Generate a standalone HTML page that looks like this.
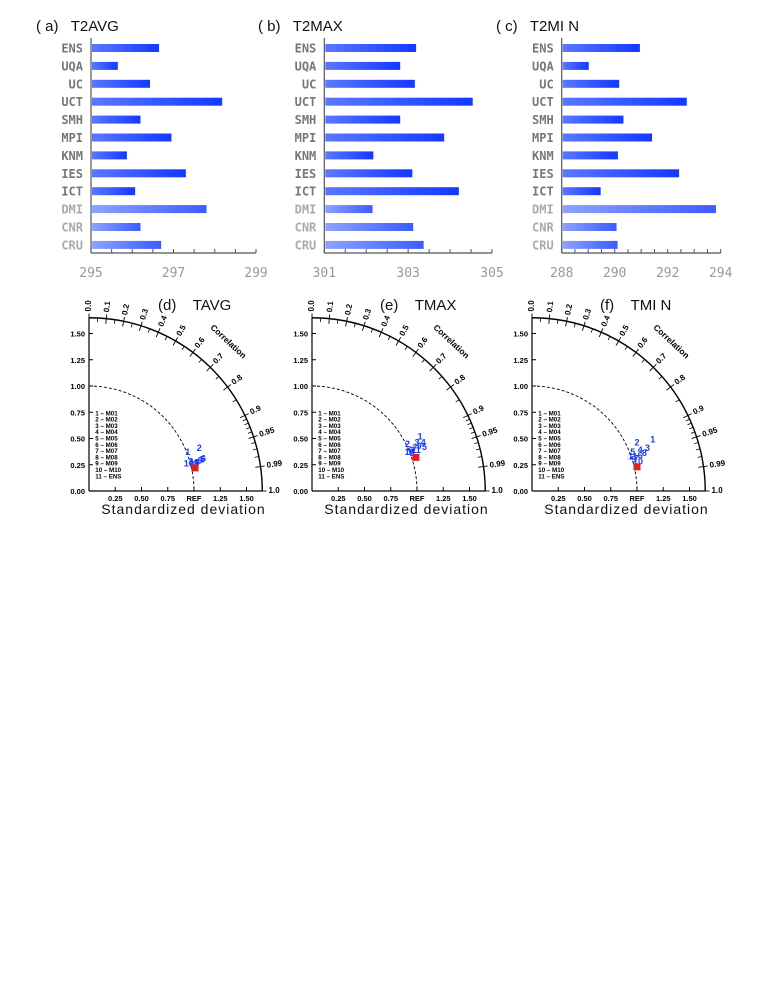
<!DOCTYPE html>
<html><head><meta charset="utf-8"><style>
body{margin:0;background:#fff;}
svg{display:block;font-family:"Liberation Sans","DejaVu Sans",sans-serif;}
text{white-space:pre;}
</style></head><body>
<svg id="fig" width="765" height="990" viewBox="0 0 765 990" xmlns="http://www.w3.org/2000/svg">
<defs>
<linearGradient id="barg" x1="0" x2="1" y1="0" y2="0"><stop offset="0" stop-color="#5a78ff"/><stop offset="1" stop-color="#1438ff"/></linearGradient>
<linearGradient id="barl" x1="0" x2="1" y1="0" y2="0"><stop offset="0" stop-color="#8ea2ff"/><stop offset="1" stop-color="#3a5cff"/></linearGradient>
</defs>
<g id="bars"></g>
<g id="taylors"></g>
</svg>
<script>
const categories = ["ENS","UQA","UC","UCT","SMH","MPI","KNM","IES","ICT","DMI","CNR","CRU"];
const valuesA = [296.65,295.65,296.43,298.18,296.2,296.95,295.87,297.3,296.07,297.8,296.2,296.7];
const valuesB = [303.19,302.81,303.16,304.54,302.81,303.86,302.17,303.1,304.21,302.15,303.12,303.37];
const valuesC = [290.95,289.02,290.17,292.72,290.33,291.41,290.12,292.43,289.47,293.82,290.07,290.11];
const ticksA = [295,297,299];
const ticksB = [301,303,305];
const ticksC = [288,290,292,294];
const titlesBar = ["( a)   T2AVG","( b)   T2MAX","( c)   T2MI N"];

const taylorX_D = [0.94,1.05,0.97,1.03,1.08,1.09,0.98,1.02,1.06,0.95,1.00];
const taylorY_D = [0.37,0.41,0.28,0.27,0.30,0.31,0.25,0.26,0.29,0.26,0.27];
const taylorX_E = [1.03,0.91,1.00,1.06,1.07,0.94,0.98,0.95,1.02,0.93,0.99];
const taylorY_E = [0.52,0.45,0.46,0.46,0.42,0.39,0.41,0.36,0.43,0.37,0.39];
const taylorX_F = [1.15,1.00,1.10,1.03,0.96,1.03,0.99,1.07,0.97,1.01,0.96];
const taylorY_F = [0.49,0.46,0.41,0.39,0.37,0.34,0.31,0.36,0.30,0.28,0.33];
const refX = [1.01,0.99,1.00];
const refY = [0.22,0.32,0.23];
const corrLabels = ["0.0","0.1","0.2","0.3","0.4","0.5","0.6","0.7","0.8","0.9","0.95","0.99","1.0"];
const sdTicks = [0.25,0.5,0.75,1.0,1.25,1.5];
const legendItems = ["1 \u2013 M01","2 \u2013 M02","3 \u2013 M03","4 \u2013 M04","5 \u2013 M05","6 \u2013 M06","7 \u2013 M07","8 \u2013 M08","9 \u2013 M09","10 \u2013 M10","11 \u2013 ENS"];
const titlesTaylor = ["(d)    TAVG","(e)    TMAX","(f)    TMI N"];

const NS="http://www.w3.org/2000/svg";
function mk(tag,attrs,parent){const e=document.createElementNS(NS,tag);for(const k in attrs)e.setAttribute(k,attrs[k]);parent.appendChild(e);return e;}

const barsRoot=document.getElementById('bars');
const barPanels=[
 {x0:91,x1:256,vals:valuesA,ticks:ticksA,title:titlesBar[0],tx:36},
 {x0:324.3,x1:492,vals:valuesB,ticks:ticksB,title:titlesBar[1],tx:258},
 {x0:561.7,x1:720.7,vals:valuesC,ticks:ticksC,title:titlesBar[2],tx:496}
];
barPanels.forEach((p,pi)=>{
 const g=mk('g',{},barsRoot);
 
 
 const tmin=p.ticks[0],tmax=p.ticks[p.ticks.length-1];
 const sx=v=>p.x0+(v-tmin)/(tmax-tmin)*(p.x1-p.x0);
 const t=mk('text',{x:p.tx,y:31,'font-size':15,fill:'#111'},g);t.textContent=p.title;
 
 
 const base=253;
 mk('line',{x1:p.x0,x2:p.x0,y1:38,y2:base,stroke:'#555','stroke-width':1.2},g);
 mk('line',{x1:p.x0,x2:p.x1,y1:base,y2:base,stroke:'#555','stroke-width':1.2},g);
 for(let v=tmin;v<=tmax+1e-9;v+=0.5){const x=sx(v);mk('line',{x1:x,x2:x,y1:base-4,y2:base,stroke:'#555','stroke-width':1},g);}
 p.ticks.forEach(v=>{const tl=mk('text',{x:sx(v),y:277,'font-size':13,'text-anchor':'middle',fill:'#999','font-family':'DejaVu Sans Mono, monospace'},g);tl.textContent=v;
  
  });
 categories.forEach((c,i)=>{
  const yc=48+i*17.9;
  const lbl=mk('text',{x:p.x0-8,y:yc+4.5,'font-size':12,'text-anchor':'end',fill:i>=9?'#aaa':'#777','font-family':'DejaVu Sans Mono, monospace','font-weight':'bold'},g);
  lbl.textContent=c;
  
  
  const r=mk('rect',{x:p.x0+1,y:yc-4,width:Math.max(0,sx(p.vals[i])-p.x0-1),height:8,fill:i>=9?'url(#barl)':'url(#barg)'},g);
  
  
 });
});

const tayRoot=document.getElementById('taylors');
const S=105;
const tPanels=[
 {ox:89,oy:491,xs:taylorX_D,ys:taylorY_D,title:titlesTaylor[0],tx:158},
 {ox:312,oy:491,xs:taylorX_E,ys:taylorY_E,title:titlesTaylor[1],tx:380},
 {ox:532,oy:491,xs:taylorX_F,ys:taylorY_F,title:titlesTaylor[2],tx:600}
];
tPanels.forEach((p,pi)=>{
 const g=mk('g',{},tayRoot);
 
 
 const X=v=>p.ox+v*S, Y=v=>p.oy-v*S;
 const R=1.65;
 const tt=mk('text',{x:p.tx,y:310,'font-size':15,fill:'#111'},g);tt.textContent=p.title;
 
 
 mk('line',{x1:X(0),y1:Y(0),x2:X(0),y2:Y(R),stroke:'#000','stroke-width':1.2},g);
 mk('line',{x1:X(0),y1:Y(0),x2:X(R),y2:Y(0),stroke:'#000','stroke-width':1.2},g);
 mk('path',{d:`M${X(0)},${Y(R)} A${R*S},${R*S} 0 0 1 ${X(R)},${Y(0)}`,fill:'none',stroke:'#000','stroke-width':1.4},g);
 mk('path',{d:`M${X(0)},${Y(1)} A${S},${S} 0 0 1 ${X(1)},${Y(0)}`,fill:'none',stroke:'#000','stroke-width':0.9,'stroke-dasharray':'3,2'},g);
 [0,0.25,0.5,0.75,1.0,1.25,1.5].forEach(v=>{
  mk('line',{x1:X(0),x2:X(0)+4,y1:Y(v),y2:Y(v),stroke:'#000'},g);
  const l=mk('text',{x:X(0)-4,y:Y(v)+3,'font-size':7.5,'font-weight':'bold','text-anchor':'end'},g);l.textContent=v.toFixed(2);
  
  
 });
 sdTicks.forEach(v=>{
  mk('line',{x1:X(v),x2:X(v),y1:Y(0),y2:Y(0)-4,stroke:'#000'},g);
  const l=mk('text',{x:X(v),y:Y(0)+10,'font-size':7.5,'font-weight':'bold','text-anchor':'middle'},g);l.textContent=v===1?'REF':v.toFixed(2);
  
  
 });
 const minor=[0.05,0.15,0.25,0.35,0.45,0.55,0.65,0.75,0.85,0.91,0.92,0.93,0.94,0.96,0.97,0.98];
 minor.forEach(c=>{const a=Math.acos(c);mk('line',{x1:X(R*Math.cos(a)),y1:Y(R*Math.sin(a)),x2:X((R-0.04)*Math.cos(a)),y2:Y((R-0.04)*Math.sin(a)),stroke:'#000','stroke-width':0.8},g);});
 corrLabels.forEach(s=>{
  const c=parseFloat(s),a=Math.acos(c),deg=a*180/Math.PI;
  mk('line',{x1:X((R-0.05)*Math.cos(a)),y1:Y((R-0.05)*Math.sin(a)),x2:X((R+0.04)*Math.cos(a)),y2:Y((R+0.04)*Math.sin(a)),stroke:'#000','stroke-width':0.9},g);
  const lx=X((R+0.06)*Math.cos(a)),ly=Y((R+0.06)*Math.sin(a));
  const l=mk('text',{x:lx,y:ly,'font-size':8,'font-weight':'bold',transform:`rotate(${-deg} ${lx} ${ly})`,'dominant-baseline':'middle'},g);l.textContent=s;
  
  
 });
 const ca=47*Math.PI/180, cx=X(1.92*Math.cos(ca)), cy=Y(1.92*Math.sin(ca));
 const ct=mk('text',{x:cx,y:cy,'font-size':8.5,'font-weight':'bold','text-anchor':'middle',transform:`rotate(${90-47} ${cx} ${cy})`},g);ct.textContent='Correlation';
 
 
 const xt=mk('text',{x:X(0.9),y:514,'font-size':14,'text-anchor':'middle','letter-spacing':'1','fill':'#111'},g);xt.textContent='Standardized deviation';
 
 
 legendItems.forEach((s,i)=>{const l=mk('text',{x:X(0.06),y:Y(0.75)+3+i*6.3,'font-size':6.2,'font-weight':'bold'},g);l.textContent=s;
  
  });
 p.xs.forEach((v,i)=>{
  const pt=mk('text',{x:X(v),y:Y(p.ys[i])+3,'font-size':9,'font-weight':'bold','text-anchor':'middle',fill:'#1a3cff'},g);
  pt.textContent=String(i+1);
  
  
 });
 const rs=mk('rect',{x:X(refX[pi])-3.5,y:Y(refY[pi])-3.5,width:7,height:7,fill:'#e02020'},g);
 
 
});
</script>
</body></html>
